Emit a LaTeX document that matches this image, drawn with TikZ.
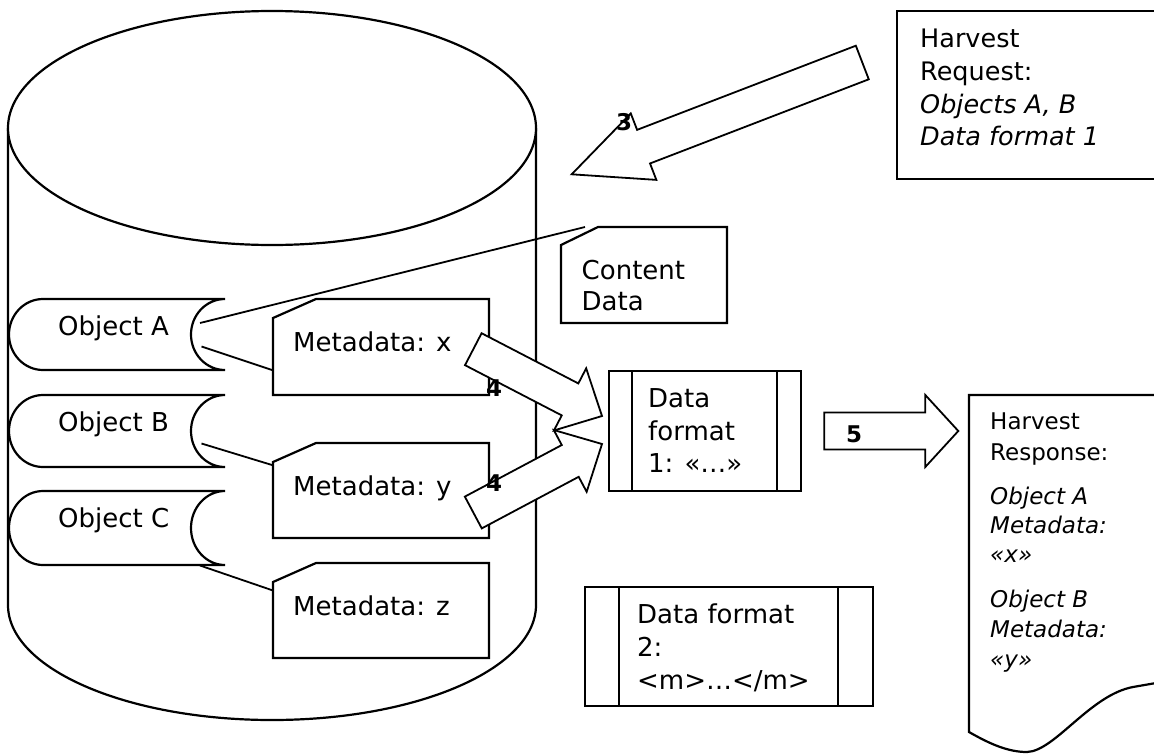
\documentclass[tikz,border=0pt]{standalone}
\usepackage{fontspec}
\setmainfont{DejaVu Sans}
\usetikzlibrary{calc}
\newcommand\blockarrow[5]{%
  \coordinate (#2-hb) at ($(#2)!#5!(#1)$);
  \draw[barrow] ($(#1)!#3!90:(#2)$) -- ($(#2-hb)!#3!90:(#2)$) -- ($(#2-hb)!#4!90:(#2)$) -- (#2)
     -- ($(#2-hb)!#4!-90:(#2)$) -- ($(#2-hb)!#3!-90:(#2)$) -- ($(#1)!#3!-90:(#2)$) -- cycle;
}
\begin{document}
\begin{tikzpicture}[x=1pt,y=-1pt,
  shp/.style={draw=black, line width=2.2pt, fill=white, line join=miter},
  conn/.style={draw=black, line width=1.8pt},
  barrow/.style={draw=black, line width=1.8pt, fill=white, line join=miter},
  txt/.style={inner sep=0pt, anchor=base west, font=\fontsize{26}{31}\selectfont},
  req/.style={inner sep=0pt, anchor=base west, font=\fontsize{25.5}{33}\selectfont},
  resp/.style={inner sep=0pt, anchor=base west, font=\fontsize{23}{29}\selectfont},
  num/.style={inner sep=0pt, anchor=base west, font=\bfseries\fontsize{23}{26}\selectfont}]
\useasboundingbox (0,0) rectangle (1154,753);

% database cylinder
\draw[shp] (8,128) -- (8,605) arc[start angle=180, end angle=0, x radius=264, y radius=115] -- (536,128);
\draw[shp] (272,128) ellipse[x radius=264, y radius=117];

% stored objects
\draw[shp] (225,299) -- (43,299) arc[start angle=270, end angle=90, x radius=34, y radius=35.5]
  -- (225,370) arc[start angle=90, end angle=270, x radius=34, y radius=35.5];
\draw[shp] (225,395) -- (43,395) arc[start angle=270, end angle=90, x radius=34, y radius=36]
  -- (225,467) arc[start angle=90, end angle=270, x radius=34, y radius=36];
\draw[shp] (225,491) -- (43,491) arc[start angle=270, end angle=90, x radius=34, y radius=37]
  -- (225,565) arc[start angle=90, end angle=270, x radius=34, y radius=37];
\node[txt] (objA) at (58,335) {Object A};
\node[txt] (objB) at (58,431.5) {Object B};
\node[txt] (objC) at (58,527) {Object C};

% metadata cards
\draw[shp] (316,299) -- (489,299) -- (489,395) -- (273,395) -- (273,318) -- cycle;
\draw[shp] (316,443) -- (489,443) -- (489,538) -- (273,538) -- (273,462) -- cycle;
\draw[shp] (316,563) -- (489,563) -- (489,658) -- (273,658) -- (273,582) -- cycle;
\node[txt] (mdx) at (293,351) {Metadata: x};
\node[txt] (mdy) at (293,495) {Metadata: y};
\node[txt] (mdz) at (293,615) {Metadata: z};

% content data card
\draw[shp] (598,227) -- (727,227) -- (727,323) -- (561,323) -- (561,245) -- cycle;
\node[txt] (cd1) at (581.5,279.5) {Content};
\node[txt] (cd2) at (581.5,310.5) {Data};

% connectors
\coordinate (aTop) at (200,323);
\coordinate (aBot) at (201.5,346.5);
\coordinate (bBot) at (201.5,443.5);
\coordinate (cBot) at (200,565.5);
\coordinate (cdPtr) at (585,227);
\coordinate (mdxPtr) at (272,370);
\coordinate (mdyPtr) at (272,465);
\coordinate (mdzPtr) at (273,590.5);
\draw[conn] (aTop) -- (cdPtr);
\draw[conn] (aBot) -- (mdxPtr);
\draw[conn] (bBot) -- (mdyPtr);
\draw[conn] (cBot) -- (mdzPtr);

% data format 1
\draw[shp] (609,371) rectangle (801,491);
\draw[shp] (632,371) -- (632,491);
\draw[shp] (777,371) -- (777,491);
\node[txt] (df1a) at (648,407.5) {Data};
\node[txt] (df1b) at (648,440.5) {format};
\node[txt] (df1c) at (648,472.5) {1: «…»};

% data format 2
\draw[shp] (585,587) rectangle (873,706);
\draw[shp] (619,587) -- (619,706);
\draw[shp] (838,587) -- (838,706);
\node[txt] (df2a) at (637,623.5) {Data format};
\node[txt] (df2b) at (637,656.5) {2:};
\node[txt] (df2c) at (637,689) {<m>…</m>};

% harvest request
\draw[shp] (1156,11) -- (897,11) -- (897,179) -- (1156,179);
\node[req] (hr1) at (920,47) {Harvest};
\node[req] (hr2) at (920,80) {Request:};
\node[req] (hr3) at (920,113) {\itshape Objects A, B};
\node[req] (hr4) at (920,145.5) {\itshape Data format 1};

% harvest response document
\draw[shp] (1156,395) -- (969,395) -- (969,732) .. controls (990,744) and (1008,752) .. (1027,752)
  .. controls (1055,751) and (1090,695) .. (1133,687) -- (1156,683);
\node[resp] (rs1) at (990,429) {Harvest};
\node[resp] (rs2) at (990,460) {Response:};
\node[resp] (rs3) at (990,504) {\itshape Object A};
\node[resp] (rs4) at (990,533) {\itshape Metadata:};
\node[resp] (rs5) at (990,562) {\itshape «x»};
\node[resp] (rs6) at (990,607) {\itshape Object B};
\node[resp] (rs7) at (990,637) {\itshape Metadata:};
\node[resp] (rs8) at (990,667) {\itshape «y»};

% block arrows
\coordinate (t3) at (862.3,62.5);
\coordinate (h3) at (571.7,174.3);
\blockarrow{t3}{h3}{18pt}{35.6pt}{77pt}
\coordinate (t4a) at (473.3,349.2);
\coordinate (h4a) at (602,416);
\blockarrow{t4a}{h4a}{18pt}{35pt}{36pt}
\coordinate (t4b) at (473.3,512.5);
\coordinate (h4b) at (602,444);
\blockarrow{t4b}{h4b}{18pt}{35pt}{36pt}
\coordinate (t5) at (824.3,431);
\coordinate (h5) at (958.3,431);
\blockarrow{t5}{h5}{18.5pt}{36pt}{33pt}

\node[num] (n3) at (616,130) {3};
\node[num] (n4a) at (486,396) {4};
\node[num] (n4b) at (486,491.5) {4};
\node[num] (n5) at (846,442.5) {5};
\end{tikzpicture}
\end{document}
